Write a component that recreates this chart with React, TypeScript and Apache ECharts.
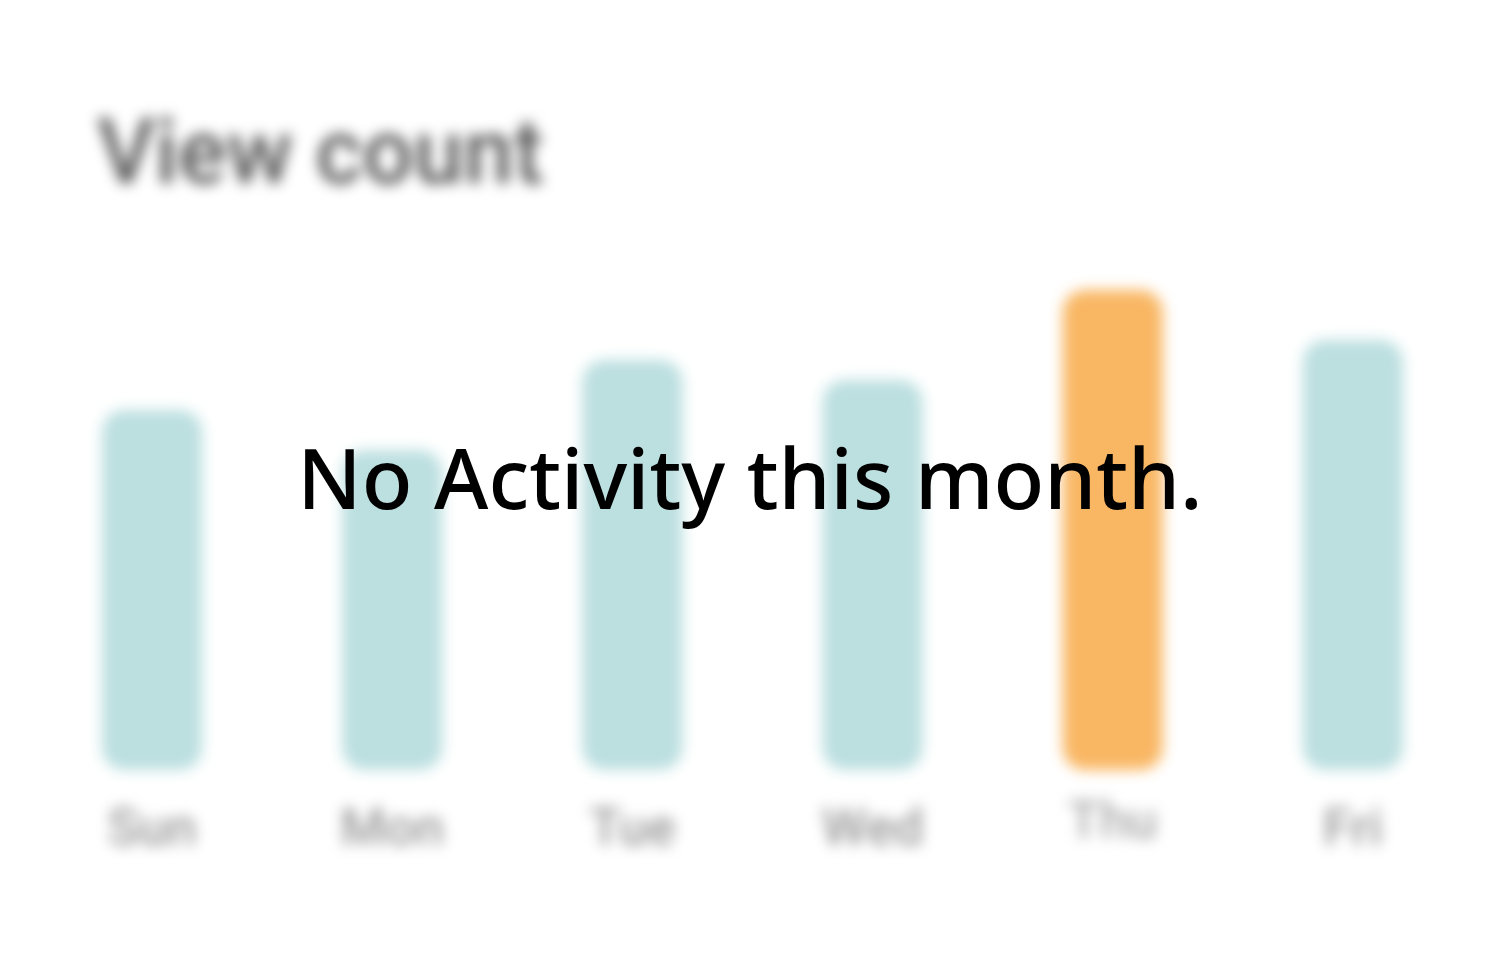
import React, { useEffect, useRef } from "react";
import * as echarts from "echarts";

const days = ["Sun", "Mon", "Tue", "Wed", "Thu", "Fri"];
const views = [36, 32, 41, 39, 48, 43];
const highlightDay = "Thu";
const titleText = "View count";
const overlayText = "No Activity this month.";

export default function App() {
  const chartRef = useRef<HTMLDivElement>(null);
  const overlayRef = useRef<HTMLDivElement>(null);

  useEffect(() => {
    const chart = echarts.init(chartRef.current!, null, { renderer: "svg" });
    chart.setOption({
      animation: false,
      backgroundColor: "#ffffff",
      title: {
        text: titleText,
        left: 92,
        top: 102,
        textStyle: { fontFamily: "Roboto", fontSize: 90, fontWeight: 500, color: "#585858" },
      },
      grid: { left: 32, right: 27, top: 270, bottom: 190 },
      xAxis: {
        type: "category",
        data: days,
        axisLine: { show: false },
        axisTick: { show: false },
        axisLabel: {
          margin: 26,
          formatter: (v: string) => (v === highlightDay ? `{hi|${v}}` : `{n|${v}}`),
          rich: {
            n: { fontFamily: "Roboto", fontSize: 52, fontWeight: 500, color: "#999999", lineHeight: 62 },
            hi: { fontFamily: "Roboto", fontSize: 52, fontWeight: 500, color: "#a8a8a8", lineHeight: 48 },
          },
        },
      },
      yAxis: { type: "value", min: 0, max: 50, show: false, splitLine: { show: false } },
      series: [
        {
          type: "bar",
          barWidth: 100,
          data: views.map((v, i) => ({
            value: v,
            itemStyle: { color: days[i] === highlightDay ? "#f9b764" : "#bcdfe0" },
          })),
          itemStyle: { borderRadius: 22 },
        },
      ],
    });

    const overlay = echarts.init(overlayRef.current!, null, { renderer: "svg" });
    overlay.setOption({
      animation: false,
      backgroundColor: "transparent",
      graphic: [
        {
          type: "text",
          left: "center",
          top: 435,
          style: {
            text: overlayText,
            font: "500 83px 'Noto Sans'",
            fill: "#000000",
          },
        },
      ],
    });
    return () => {
      chart.dispose();
      overlay.dispose();
    };
  }, []);

  return (
    <div style={{ position: "fixed", left: 0, top: 0, width: 1500, height: 960, background: "#fff", overflow: "hidden" }}>
      <div ref={chartRef} style={{ position: "absolute", left: 0, top: 0, width: 1500, height: 960, filter: "blur(7px)" }} />
      <div ref={overlayRef} style={{ position: "absolute", left: 0, top: 0, width: 1500, height: 960 }} />
    </div>
  );
}
